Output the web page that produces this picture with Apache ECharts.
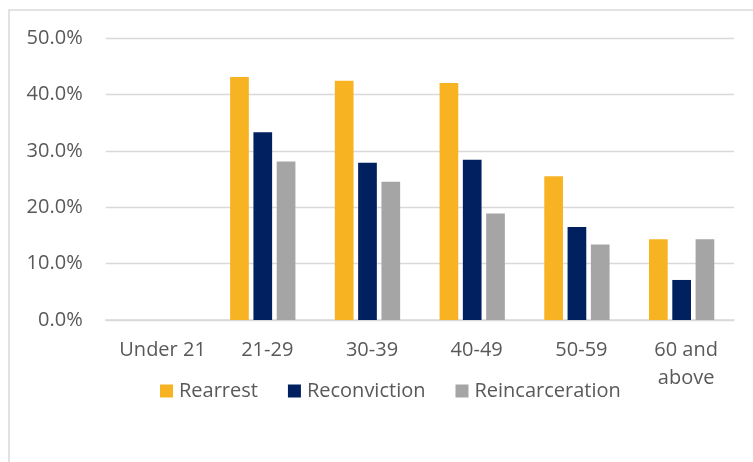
<!DOCTYPE html>
<html>
<head>
<meta charset="utf-8">
<script src="https://cdn.jsdelivr.net/npm/echarts@6/dist/echarts.min.js"></script>
<style>
  html, body { margin: 0; padding: 0; background: #ffffff; }
  #chart { width: 753px; height: 462px; }
</style>
</head>
<body>
<div id="chart"></div>
<script>
// Recidivism rates by age group (percent)
const ageGroups = ['Under 21', '21-29', '30-39', '40-49', '50-59', '60 and above'];
const rearrest = [0, 43.1, 42.4, 42.0, 25.5, 14.3];
const reconviction = [0, 33.3, 27.9, 28.4, 16.5, 7.1];
const reincarceration = [0, 28.1, 24.5, 18.9, 13.4, 14.3];
const yTicks = { min: 0, max: 50, interval: 10 };

const textColor = '#595959';
const fontFamily = '"Open Sans", "Liberation Sans", sans-serif';

const chart = echarts.init(document.getElementById('chart'), null, { renderer: 'canvas' });

function barSeries(name, data, color) {
  return {
    name: name,
    type: 'bar',
    data: data,
    barWidth: 18.7,
    barGap: '24.6%',
    itemStyle: { color: color },
    emphasis: { disabled: true }
  };
}

chart.setOption({
  animation: false,
  backgroundColor: '#ffffff',
  textStyle: { fontFamily: fontFamily },
  graphic: [{
    type: 'rect',
    silent: true,
    shape: { x: 9, y: 10, width: 800, height: 500 },
    style: { fill: 'none', stroke: '#d9d9d9', lineWidth: 1.5 }
  }],
  grid: { left: 105.7, right: 19, top: 38, bottom: 142, containLabel: false },
  legend: {
    left: 160,
    top: 381,
    padding: 0,
    itemWidth: 13,
    itemHeight: 13,
    itemGap: 30,
    icon: 'rect',
    textStyle: { fontSize: 20, color: textColor, fontFamily: fontFamily, padding: [0, 0, 0, 1] },
    data: ['Rearrest', 'Reconviction', 'Reincarceration']
  },
  xAxis: {
    type: 'category',
    data: ageGroups,
    axisLine: { lineStyle: { color: '#d9d9d9', width: 1.5 } },
    axisTick: { show: false },
    axisLabel: {
      interval: 0,
      margin: 16,
      fontSize: 20,
      lineHeight: 28,
      color: textColor,
      fontFamily: fontFamily,
      padding: [0, 0, 0, 9],
      formatter: v => v.replace('and ', 'and\n')
    }
  },
  yAxis: {
    type: 'value',
    min: yTicks.min,
    max: yTicks.max,
    interval: yTicks.interval,
    axisLine: { show: false },
    axisTick: { show: false },
    splitLine: { lineStyle: { color: '#d9d9d9', width: 1.3 } },
    axisLabel: {
      margin: 23,
      fontSize: 20,
      color: textColor,
      fontFamily: fontFamily,
      formatter: v => v.toFixed(1) + '%'
    }
  },
  series: [
    barSeries('Rearrest', rearrest, '#f7b322'),
    barSeries('Reconviction', reconviction, '#002060'),
    barSeries('Reincarceration', reincarceration, '#a5a5a5')
  ]
});
</script>
</body>
</html>
